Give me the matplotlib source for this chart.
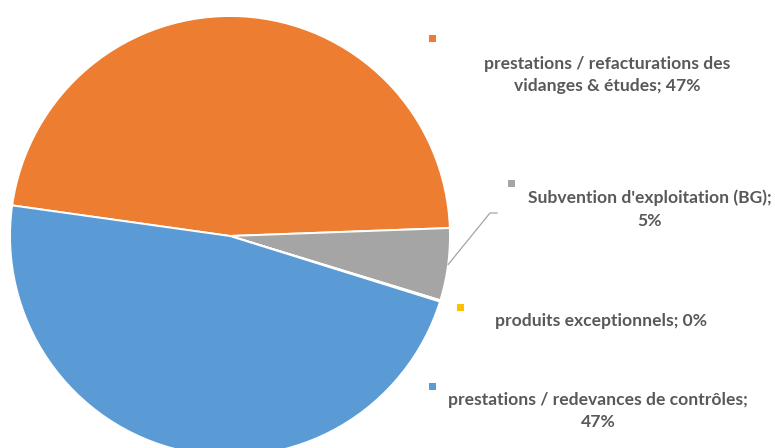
import numpy as np
import matplotlib.pyplot as plt

# données du camembert
categories = ["prestations / refacturations des\nvidanges & études",
              "Subvention d'exploitation (BG);\n",
              "produits exceptionnels",
              "prestations / redevances de contrôles;\n"]
valeurs = [47.2, 5.3, 0.1, 47.4]
couleurs = ["#ED7D31", "#A5A5A5", "#FFC000", "#5B9BD5"]

W, H = 775, 448
fig = plt.figure(figsize=(W / 100, H / 100), dpi=100)
ax = fig.add_axes([0, 0, 1, 1])

def py(y):
    # pixel y (haut) -> coordonnée donnée (bas)
    return H - y

cx, cy, r = 230, py(236), 220
wedges, _ = ax.pie(valeurs, colors=couleurs, startangle=172, counterclock=False,
                   center=(cx, cy), radius=r, frame=True,
                   wedgeprops=dict(edgecolor="white", linewidth=1.4))
ax.set_xlim(0, W)
ax.set_ylim(0, H)
ax.set_aspect("equal")
ax.axis("off")

total = sum(valeurs)
pct = [f"{round(v / total * 100):.0f}%" for v in valeurs]
textes = [categories[0] + "; " + pct[0],
          categories[1] + pct[1],
          categories[2] + "; " + pct[2],
          categories[3] + pct[3]]

# positions des étiquettes (pixels) : carré de couleur + texte
pos_carre = [(432, 38), (511, 183), (460, 307), (432, 386)]
pos_texte = [(607, 75), (650, 209), (601, 321), (598, 411)]

for i in range(len(valeurs)):
    qx, qy = pos_carre[i]
    ax.add_patch(plt.Rectangle((qx - 3.5, py(qy) - 3.5), 7, 7,
                               color=couleurs[i], lw=0))
    tx, ty = pos_texte[i]
    ax.text(tx, py(ty), textes[i], ha="center", va="center",
            fontsize=12.6, fontweight="bold", color="#595959",
            family=["Lato", "DejaVu Sans"], linespacing=1.5)

# trait de rappel vers la part grise
w = wedges[1]
ang = np.deg2rad((w.theta1 + w.theta2) / 2)
x0, y0 = cx + r * np.cos(ang), cy + r * np.sin(ang)
ax.plot([x0, 490, 497], [y0, py(213), py(213)], color="#A5A5A5", lw=0.9)

fig.savefig("out.png", dpi=100)
